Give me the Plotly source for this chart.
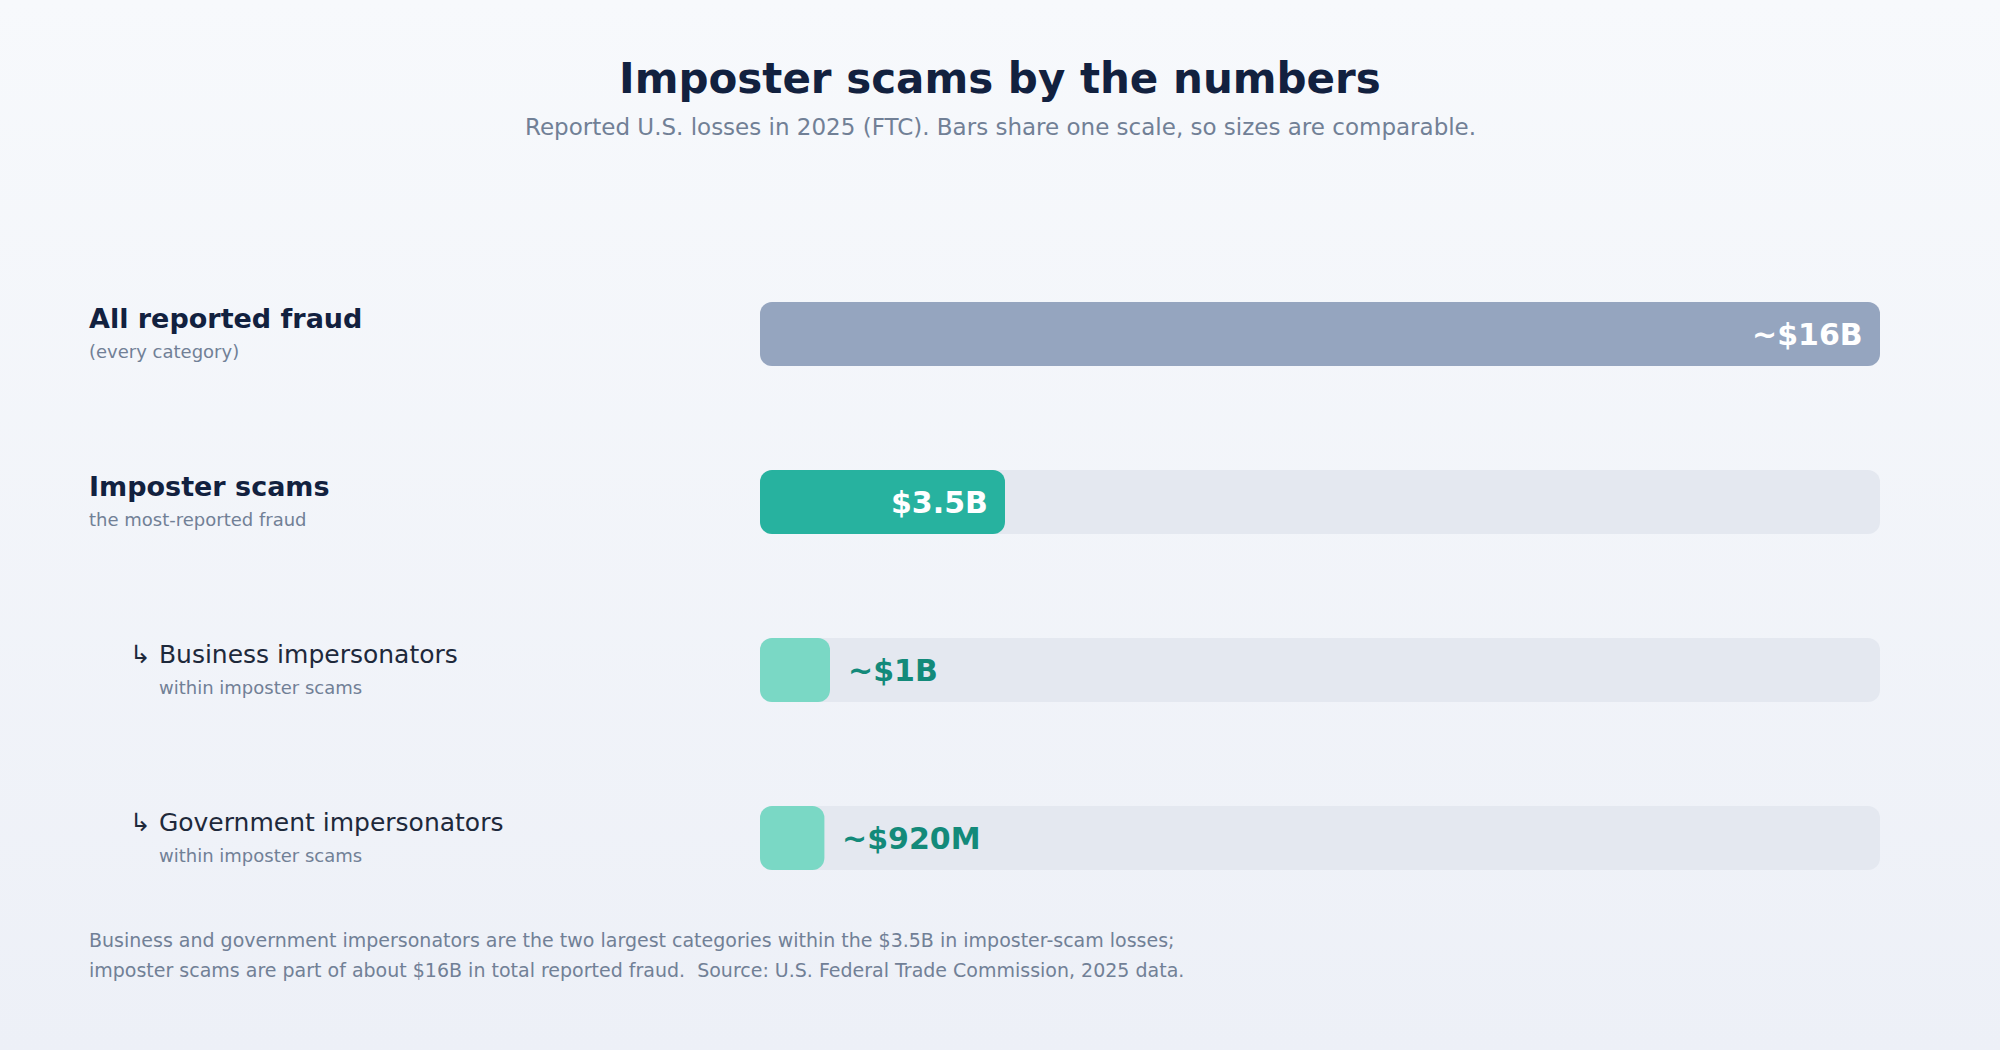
import base64
import plotly.graph_objects as go

# values (U.S. losses, billions of dollars, 2025)
categories = ["All reported fraud", "Imposter scams",
              "Business impersonators", "Government impersonators"]
notes = ["(every category)", "the most-reported fraud",
         "within imposter scams", "within imposter scams"]
losses_bn = [16, 3.5, 1.0, 0.92]
value_text = ["~$16B", "$3.5B", "~$1B", "~$920M"]
is_sub = [False, False, True, True]
bar_colors = ["#95a5bf", "#27b29f", "#7ad8c5", "#7ad8c5"]
scale_max = 16

title = "Imposter scams by the numbers"
subtitle = "Reported U.S. losses in 2025 (FTC). Bars share one scale, so sizes are comparable."
footer = ["Business and government impersonators are the two largest categories within the $3.5B in imposter-scam losses;",
          "imposter scams are part of about $16B in total reported fraud.\u00a0 Source: U.S. Federal Trade Commission, 2025 data."]

# page geometry (pixels)
W, H = 2000, 1050
L, R, T, B = 760, 120, 250, 128
plot_w, plot_h = W - L - R, H - T - B
FONT = "DejaVu Sans"
TRACK = "#e4e8f0"


def xp(px):
    return (px - L) / plot_w


def yp(py):
    return (H - B - py) / plot_h


fig = go.Figure()

# an explicit base makes plotly round both ends of the bar
fig.add_trace(go.Bar(y=categories, x=[scale_max] * len(categories), base=[0] * len(categories),
                     orientation="h", marker=dict(color=TRACK, cornerradius=12, line=dict(width=0)),
                     width=64 / 168, hoverinfo="skip", showlegend=False))
fig.add_trace(go.Bar(y=categories, x=losses_bn, base=[0] * len(categories),
                     orientation="h", marker=dict(color=bar_colors, cornerradius=12, line=dict(width=0)),
                     width=64 / 168, hoverinfo="skip", showlegend=False))

ann = []
ann.append(dict(text=title, xref="paper", yref="paper", x=xp(W / 2), y=yp(78),
                xanchor="center", yanchor="middle", showarrow=False,
                font=dict(family=FONT, size=42, color="#12213f", weight="bold")))
ann.append(dict(text=subtitle, xref="paper", yref="paper", x=xp(W / 2), y=yp(127),
                xanchor="center", yanchor="middle", showarrow=False,
                font=dict(family=FONT, size=23, color="#718096")))

for cat, note, v, txt, sub in zip(categories, notes, losses_bn, value_text, is_sub):
    if sub:
        ann.append(dict(text="\u21b3 " + cat, xref="paper", yref="y", x=xp(128), y=cat,
                        xanchor="left", yanchor="middle", yshift=16, showarrow=False,
                        font=dict(family=FONT, size=25, color="#1e293b")))
        ann.append(dict(text=note, xref="paper", yref="y", x=xp(157), y=cat,
                        xanchor="left", yanchor="middle", yshift=-17, showarrow=False,
                        font=dict(family=FONT, size=18, color="#718096")))
    else:
        ann.append(dict(text=cat, xref="paper", yref="y", x=xp(87), y=cat,
                        xanchor="left", yanchor="middle", yshift=16, showarrow=False,
                        font=dict(family=FONT, size=27, color="#12213f", weight="bold")))
        ann.append(dict(text=note, xref="paper", yref="y", x=xp(87), y=cat,
                        xanchor="left", yanchor="middle", yshift=-17, showarrow=False,
                        font=dict(family=FONT, size=18, color="#718096")))
    # value label: inside the bar when it is long enough, else just past its end
    if v / scale_max * plot_w > 150:
        ann.append(dict(text=txt, x=v, y=cat, xanchor="right", yanchor="middle",
                        xshift=-15, showarrow=False,
                        font=dict(family=FONT, size=30, color="#ffffff", weight="bold")))
    else:
        ann.append(dict(text=txt, x=v, y=cat, xanchor="left", yanchor="middle",
                        xshift=16, showarrow=False,
                        font=dict(family=FONT, size=30, color="#138a7a", weight="bold")))

for i, line in enumerate(footer):
    ann.append(dict(text=line, xref="paper", yref="paper", x=xp(87), y=yp(940 + 30 * i),
                    xanchor="left", yanchor="middle", showarrow=False,
                    font=dict(family=FONT, size=19, color="#718096")))

svg = ('<svg xmlns="http://www.w3.org/2000/svg" width="2000" height="1050">'
       '<defs><linearGradient id="g" x1="0" y1="0" x2="0" y2="1">'
       '<stop offset="0" stop-color="#f7f9fc"/><stop offset="1" stop-color="#edf0f7"/>'
       '</linearGradient></defs><rect width="2000" height="1050" fill="url(#g)"/></svg>')
bg = "data:image/svg+xml;base64," + base64.b64encode(svg.encode()).decode()

fig.update_layout(
    width=W, height=H,
    margin=dict(l=L, r=R, t=T, b=B),
    barmode="overlay",
    paper_bgcolor="#f2f4f9", plot_bgcolor="rgba(0,0,0,0)",
    xaxis=dict(range=[0, scale_max], visible=False, fixedrange=True),
    yaxis=dict(categoryorder="array", categoryarray=categories, range=[3.5, -0.5],
               visible=False, fixedrange=True),
    annotations=ann,
    images=[dict(source=bg, xref="paper", yref="paper", x=xp(0), y=yp(0),
                 sizex=W / plot_w, sizey=H / plot_h, xanchor="left", yanchor="top",
                 sizing="stretch", layer="below")],
)

fig.write_html("out.html", config=dict(displayModeBar=False),
               post_script="document.body.style.margin='0';document.body.style.overflow='hidden';")
